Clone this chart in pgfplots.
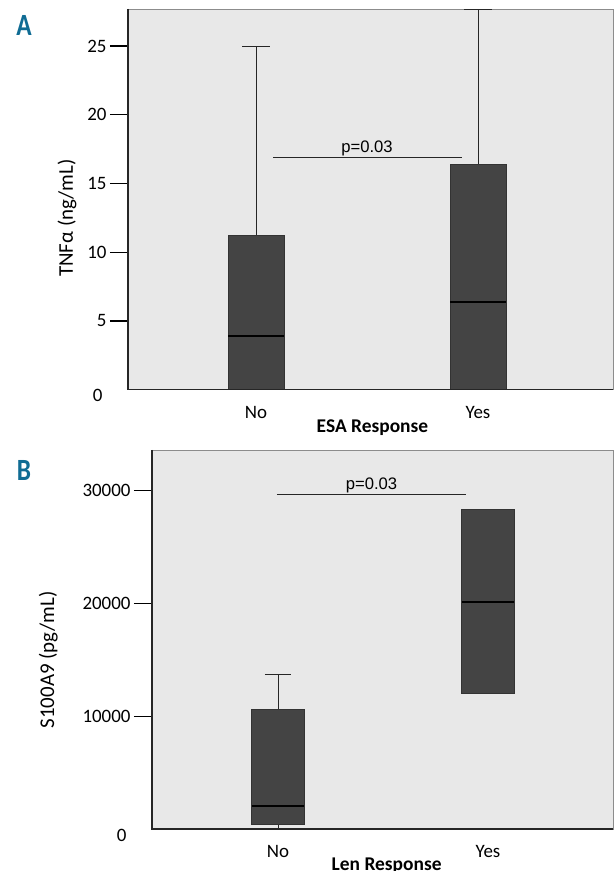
\documentclass[border=0pt]{standalone}
\usepackage{pgfplots}
\pgfplotsset{compat=1.18}
\usepgfplotslibrary{statistics}
\usepackage{fontspec}
\setmainfont{Carlito}
\newfontfamily\arialfont{Liberation Sans}
\newfontfamily\letterfont{Carlito}[FakeStretch=0.82]
\definecolor{bgc}{RGB}{232,232,232}
\definecolor{boxc}{RGB}{68,68,68}
\definecolor{panelc}{RGB}{16,108,148}
\pgfplotsset{
  mystyle/.style={
    scale only axis,
    axis background/.style={fill=bgc},
    axis line style={draw=black!45, line width=0.8pt},
    clip=false,
    tick align=outside,
    major tick length=18bp,
    ytick pos=left,
    xtick pos=bottom,
    tick style={black, line width=1.3pt},
    x tick style={draw=none},
    xtick={1,2}, xticklabels={No,Yes},
    tick label style={font=\fontsize{19}{19}\selectfont},
    /pgf/number format/assume math mode=true,
    scaled y ticks=false,
    extra y ticks={0}, extra y tick labels={0},
    extra y tick style={major tick length=0pt, yticklabel style={yshift=-6bp, xshift=-22bp}},
    boxplot/draw direction=y,
    boxplot/every box/.style={fill=boxc, draw=black!80, line width=0.8pt},
    boxplot/every whisker/.style={draw=black!85, line width=0.9pt},
    boxplot/every median/.style={draw=black, line width=2pt},
  }
}
\begin{document}
\begin{tikzpicture}
\useasboundingbox (0bp,0bp) rectangle (614bp,871bp);
% Panel A
\begin{axis}[mystyle,
  at={(128bp,481.3bp)}, anchor=south west,
  width=485bp, height=380.7bp,
  xmin=0.4234, xmax=2.608, ymin=0, ymax=27.7,
  ytick={5,10,15,20,25},
  xticklabel style={yshift=5bp},
  ylabel={TNFα (ng/mL)},
  ylabel style={at={(axis description cs:-0.1255,0.451)}, anchor=center, font=\fontsize{21}{21}\selectfont},
  xlabel={ESA Response},
  xlabel style={at={(axis description cs:0.504,-0.1)}, anchor=center, font=\bfseries\fontsize{19.5}{19.5}\selectfont},
]
\addplot[boxplot prepared={draw position=1, lower whisker=0, lower quartile=0, median=3.9, upper quartile=11.2, upper whisker=25, box extend=0.252, whisker extend=0.126}] coordinates {};
\addplot[boxplot prepared={draw position=2, lower whisker=0, lower quartile=0, median=6.4, upper quartile=16.4, upper whisker=27.7, box extend=0.252, whisker extend=0.126}] coordinates {};
\addplot[black!85, line width=0.8pt] coordinates {(1.0766,16.9) (1.928,16.9)};
\node[anchor=base, font=\arialfont\fontsize{16.7}{16.7}\selectfont, yshift=5bp] at (axis cs:1.5,16.9) {p=0.03};
\draw[black!85, line width=1.6pt] (rel axis cs:0,1) -- (rel axis cs:0,0) -- (rel axis cs:1,0);
\end{axis}
% Panel B (values in thousands of pg/mL)
\begin{axis}[mystyle,
  at={(152bp,42bp)}, anchor=south west,
  width=461bp, height=379bp,
  xmin=0.4, xmax=2.595, ymin=0, ymax=33.6,
  ytick={10,20,30}, yticklabels={10000,20000,30000},
  xticklabel style={yshift=5bp},
  ylabel={S100A9 (pg/mL)},
  ylabel style={at={(axis description cs:-0.225,0.446)}, anchor=center, font=\fontsize{21}{21}\selectfont},
  xlabel={Len Response},
  xlabel style={at={(axis description cs:0.509,-0.097)}, anchor=center, font=\bfseries\fontsize{19.5}{19.5}\selectfont},
]
\addplot[boxplot prepared={draw position=1, lower whisker=0, lower quartile=0.44, median=2.04, upper quartile=10.61, upper whisker=13.71, box extend=0.25, whisker extend=0.124}] coordinates {};
\addplot[boxplot prepared={draw position=2, lower whisker=12.03, lower quartile=12.03, median=20.15, upper quartile=28.34, upper whisker=28.34, box extend=0.25, whisker extend=0.124}] coordinates {};
\addplot[black!85, line width=0.8pt] coordinates {(0.995,29.67) (1.895,29.67)};
\node[anchor=base, font=\arialfont\fontsize{16.7}{16.7}\selectfont, yshift=5bp] at (axis cs:1.445,29.67) {p=0.03};
\draw[black!85, line width=1.6pt] (rel axis cs:0,1) -- (rel axis cs:0,0) -- (rel axis cs:1,0);
\end{axis}
\node[anchor=center, text=panelc, font=\letterfont\bfseries\fontsize{31}{31}\selectfont] at (24bp,845.5bp) {A};
\node[anchor=center, text=panelc, font=\letterfont\bfseries\fontsize{31}{31}\selectfont] at (24bp,401bp) {B};
\end{tikzpicture}
\end{document}
